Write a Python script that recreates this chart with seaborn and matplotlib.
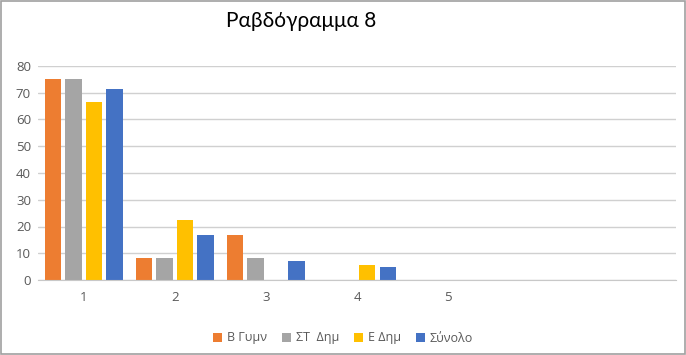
import pandas as pd
import seaborn as sns
import matplotlib.pyplot as plt
from matplotlib.patches import Rectangle

categories = ["1", "2", "3", "4", "5", "6", "7"]
tick_labels = ["1", "2", "3", "4", "5", "", ""]
series = ["Β Γυμν", "ΣΤ  Δημ", "Ε Δημ", "Σύνολο"]
b_gymn = [75.0, 8.3, 16.7, 0, 0]
st_dim = [75.0, 8.3, 8.3, 0, 0]
e_dim = [66.7, 22.6, 0, 5.6, 0]
synolo = [71.4, 16.7, 7.1, 4.8, 0]
colors = ["#ED7D31", "#A5A5A5", "#FFC000", "#4472C4"]

rows = []
for name, vals in zip(series, [b_gymn, st_dim, e_dim, synolo]):
    for cat, v in zip(categories[:5], vals):
        rows.append({"cat": cat, "series": name, "value": v})
df = pd.DataFrame(rows)

sns.set_style("white")
plt.rcParams["font.family"] = ["Open Sans", "DejaVu Sans"]

fig = plt.figure(figsize=(6.86, 3.55), dpi=100)
ax = fig.add_axes([38 / 686, 1 - 280 / 355, 638 / 686, 214 / 355])

sns.barplot(data=df, x="cat", y="value", hue="series", order=categories,
            hue_order=series, palette=colors, width=0.9, gap=0.2,
            linewidth=0, saturation=1, ax=ax, legend=True)

ax.set_ylim(0, 80)
ax.set_xlim(-0.5, 6.5)
ax.set_yticks(range(0, 81, 10))
ax.set_xticks(range(len(categories)))
ax.set_xticklabels(tick_labels)
ax.set_xlabel("")
ax.set_ylabel("")
ax.grid(axis="y", color="#D0D0D0", linewidth=1)
ax.set_axisbelow(True)
for s in ["left", "right", "top"]:
    ax.spines[s].set_visible(False)
ax.spines["bottom"].set_color("#C8C8C8")
ax.tick_params(axis="both", length=0, labelsize=9.5, colors="#595959", pad=8)
ax.tick_params(axis="y", pad=5)

handles, labels = ax.get_legend_handles_labels()
ax.legend(handles, labels, loc="center", bbox_to_anchor=(343 / 686, 1 - 338 / 355),
          bbox_transform=fig.transFigure, ncol=4, frameon=False, fontsize=9,
          handlelength=0.7, handleheight=0.7, handletextpad=0.4, columnspacing=1.2,
          labelcolor="#595959")

fig.text(301 / 686, 1 - 21 / 355, "Ραβδόγραμμα 8", ha="center", va="center",
         fontsize=15, family=["Lato", "DejaVu Sans"], color="#000000")

fig.patches.append(Rectangle((0.002, 0.002), 0.996, 0.996, transform=fig.transFigure,
                             fill=False, edgecolor="#A0A0A0", linewidth=1.2))

fig.savefig("out.png", dpi=100)
